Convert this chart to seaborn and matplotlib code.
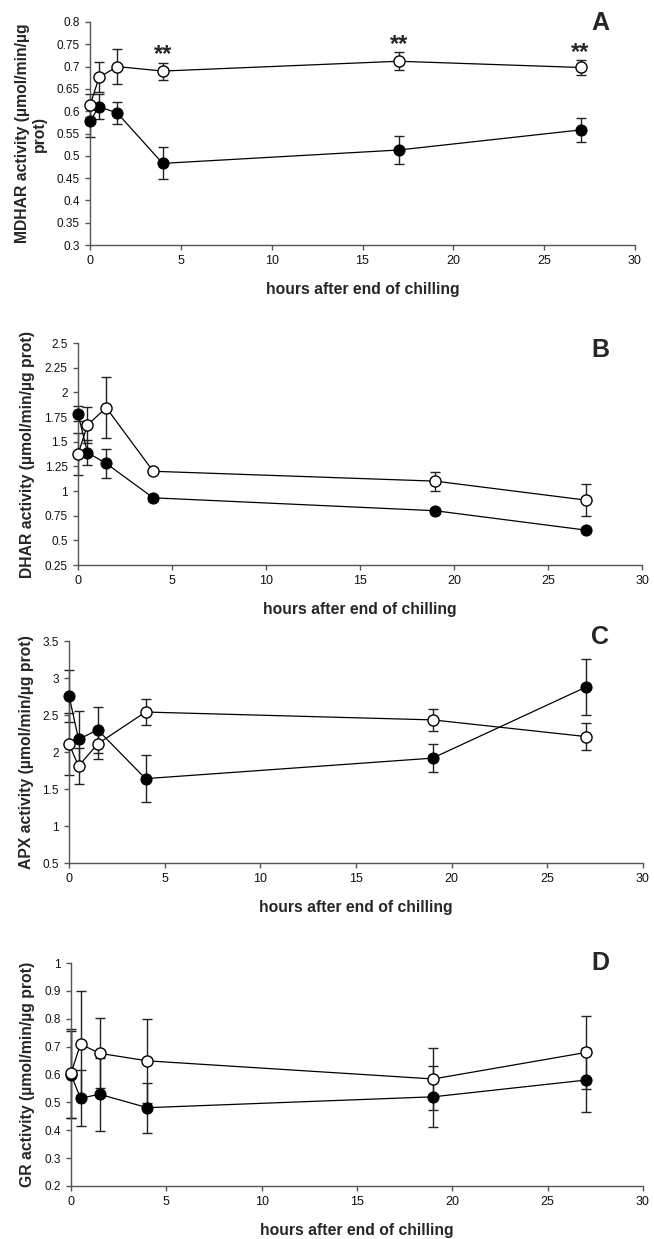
import matplotlib
matplotlib.use("Agg")
import matplotlib.pyplot as plt
import seaborn as sns
from matplotlib.ticker import FuncFormatter, MultipleLocator

# data (open = white circles, closed = black circles)
hours_a = [0, 0.5, 1.5, 4, 17, 27]
hours_bcd = [0, 0.5, 1.5, 4, 19, 27]

mdhar_open = [0.613, 0.676, 0.700, 0.690, 0.712, 0.698]
mdhar_open_err = [0.025, 0.034, 0.040, 0.019, 0.020, 0.017]
mdhar_closed = [0.578, 0.610, 0.596, 0.483, 0.513, 0.558]
mdhar_closed_err = [0.035, 0.028, 0.024, 0.036, 0.032, 0.027]

dhar_open = [1.373, 1.667, 1.845, 1.200, 1.100, 0.908]
dhar_open_err = [0.21, 0.18, 0.31, 0.02, 0.097, 0.16]
dhar_closed = [1.785, 1.390, 1.279, 0.931, 0.800, 0.604]
dhar_closed_err = [0.08, 0.13, 0.145, 0.03, 0.03, 0.02]

apx_open = [2.110, 1.810, 2.110, 2.540, 2.434, 2.209]
apx_open_err = [0.42, 0.24, 0.20, 0.17, 0.146, 0.18]
apx_closed = [2.762, 2.170, 2.300, 1.640, 1.917, 2.875]
apx_closed_err = [0.35, 0.39, 0.31, 0.32, 0.19, 0.38]

gr_open = [0.604, 0.709, 0.676, 0.649, 0.584, 0.679]
gr_open_err = [0.16, 0.19, 0.125, 0.15, 0.11, 0.13]
gr_closed = [0.600, 0.515, 0.529, 0.481, 0.520, 0.580]
gr_closed_err = [0.155, 0.10, 0.13, 0.09, 0.11, 0.115]

mdhar_signif_hours = [4, 17, 27]

xlabel = "hours after end of chilling"

sns.set_style("ticks")
plt.rcParams['font.family'] = ['Liberation Sans', 'DejaVu Sans']

fig = plt.figure(figsize=(6.54, 12.39), dpi=100)

# (rect, hours, open, open_err, closed, closed_err, ylim, step, ylabel, ylabel_x, letter, letter_y)
panels = [
    ([90/654, 1-245/1239, 545/654, 223/1239], hours_a, mdhar_open, mdhar_open_err,
     mdhar_closed, mdhar_closed_err, (0.3, 0.8), 0.05,
     "MDHAR activity (µmol/min/µg\nprot)", -59, "A", 23),
    ([78/654, 1-565/1239, 564/654, 222/1239], hours_bcd, dhar_open, dhar_open_err,
     dhar_closed, dhar_closed_err, (0.25, 2.5), 0.25,
     "DHAR activity (µmol/min/µg prot)", -50, "B", 350),
    ([69/654, 1-863/1239, 574/654, 222/1239], hours_bcd, apx_open, apx_open_err,
     apx_closed, apx_closed_err, (0.5, 3.5), 0.5,
     "APX activity (µmol/min/µg prot)", -42, "C", 637),
    ([71/654, 1-1186/1239, 572/654, 223/1239], hours_bcd, gr_open, gr_open_err,
     gr_closed, gr_closed_err, (0.2, 1.0), 0.1,
     "GR activity (µmol/min/µg prot)", -43, "D", 963),
]

axis_color = "#555555"

for rect, hrs, yo, eo, yc, ec, ylim, step, ylab, ylx, letter, ly in panels:
    ax = fig.add_axes(rect)

    # error bars under the markers
    ax.errorbar(hrs, yc, yerr=ec, fmt='none', ecolor='#222222', elinewidth=1.0,
                capsize=3.5, capthick=1.0, zorder=2)
    ax.errorbar(hrs, yo, yerr=eo, fmt='none', ecolor='#222222', elinewidth=1.0,
                capsize=3.5, capthick=1.0, zorder=2)

    sns.lineplot(x=hrs, y=yc, ax=ax, color='black', linewidth=0.9, marker='o',
                 markersize=8, markerfacecolor='black', markeredgecolor='black',
                 errorbar=None, zorder=3)
    sns.lineplot(x=hrs, y=yo, ax=ax, color='black', linewidth=0.9, marker='o',
                 markersize=8, markerfacecolor='white', markeredgecolor='black',
                 markeredgewidth=1.0, errorbar=None, zorder=4)

    # points at x=0 sit on the axis, so don't clip them
    for art in ax.lines + ax.collections:
        art.set_clip_on(False)

    ax.set_xlim(0, 30)
    ax.set_ylim(*ylim)
    ax.xaxis.set_major_locator(MultipleLocator(5))
    ax.yaxis.set_major_locator(MultipleLocator(step))
    ax.yaxis.set_major_formatter(FuncFormatter(lambda v, p: "%g" % round(v, 3)))

    sns.despine(ax=ax)
    for s in ['left', 'bottom']:
        ax.spines[s].set_color(axis_color)
        ax.spines[s].set_linewidth(1.0)
    ax.tick_params(direction='out', length=3.5, width=1.0, color=axis_color,
                   labelcolor='#111111', pad=4)
    ax.tick_params(axis='y', labelsize=8.5)
    ax.tick_params(axis='x', labelsize=9)

    ax.set_xlabel(xlabel, fontsize=11.3, fontweight='bold')
    ax.xaxis.set_label_coords(0.5, -0.165)
    ax.set_ylabel(ylab, fontsize=11.3, fontweight='bold', va='center',
                  linespacing=1.15)
    ax.yaxis.set_label_coords(ylx / (rect[2] * 654), 0.5)

    fig.text(600/654, 1 - ly/1239, letter, fontsize=18, fontweight='bold',
             ha='center', va='center')

    if letter == "A":
        for h in mdhar_signif_hours:
            i = hrs.index(h)
            ax.annotate("**", xy=(h, yo[i] + eo[i]), xytext=(0, 1),
                        textcoords='offset points', ha='center', va='baseline',
                        fontsize=17, fontweight='bold')

fig.savefig("out.png", dpi=100)
